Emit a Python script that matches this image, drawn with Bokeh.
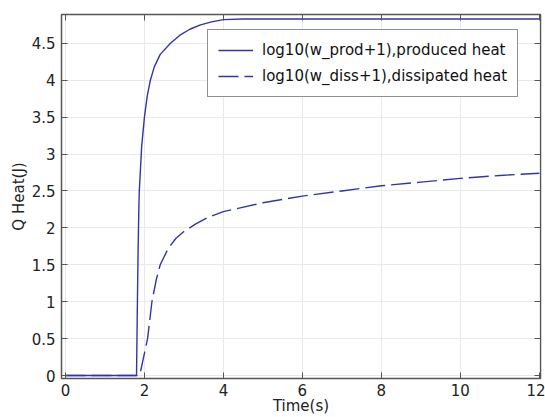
from bokeh.plotting import figure
from bokeh.models import Range1d, LinearAxis, SingleIntervalTicker, Legend, LegendItem, CustomJSTickFormatter
from bokeh.embed import file_html
from bokeh.resources import INLINE

# data
t_prod = [0, 1.80, 1.82, 1.84, 1.86, 1.87, 1.93, 2.0, 2.07, 2.15, 2.25, 2.4, 2.66, 2.9, 3.15, 3.42, 3.7, 4.0, 4.5, 6, 8, 10, 12]
q_prod = [0, 0, 0.9, 1.7, 2.3, 2.5, 3.1, 3.5, 3.78, 4.0, 4.18, 4.35, 4.5, 4.61, 4.69, 4.75, 4.79, 4.82, 4.83, 4.83, 4.83, 4.83, 4.83]

t_diss = [0, 1.85, 1.9, 2.0, 2.08, 2.19, 2.3, 2.4, 2.6, 2.8, 3.0, 3.29, 3.6, 4.0, 5, 6, 7, 8, 9, 10, 11, 12]
q_diss = [0, 0, 0.05, 0.3, 0.5, 1.0, 1.3, 1.5, 1.72, 1.86, 1.95, 2.05, 2.14, 2.22, 2.34, 2.43, 2.50, 2.57, 2.62, 2.67, 2.71, 2.74]

labels = ["log10(w_prod+1),produced heat", "log10(w_diss+1),dissipated heat"]

FONT = "DejaVu Sans"
COLOR = "#3434a8"

p = figure(width=545, height=417, output_backend="svg", toolbar_location=None,
           x_range=Range1d(-0.1, 12.03), y_range=Range1d(-0.04, 4.89),
           min_border_left=61, min_border_right=5, min_border_top=14, min_border_bottom=0)

l1 = p.line(t_prod, q_prod, line_color=COLOR, line_width=1.4)
l2 = p.line(t_diss, q_diss, line_color=COLOR, line_width=1.4, line_dash="20 6")

p.outline_line_color = "#555555"
p.outline_line_width = 1.5
p.xgrid.grid_line_color = "#e9e9e9"
p.ygrid.grid_line_color = "#e9e9e9"

for ax, lab in ((p.xaxis[0], "Time(s)"), (p.yaxis[0], "Q Heat(J)")):
    ax.axis_label = lab
    ax.axis_label_text_font = FONT
    ax.axis_label_text_font_style = "normal"
    ax.axis_label_text_font_size = "15px"
    ax.major_label_text_font = FONT
    ax.major_label_text_font_size = "15px"
    ax.major_label_text_color = "#222222"
    ax.axis_label_text_color = "#222222"
    ax.major_tick_in = 6
    ax.major_tick_out = 0
    ax.minor_tick_in = 0
    ax.minor_tick_out = 0
    ax.axis_line_color = "#555555"
    ax.major_tick_line_color = "#555555"

p.xaxis.ticker = SingleIntervalTicker(interval=2)
p.yaxis.ticker = SingleIntervalTicker(interval=0.5)
p.xaxis.axis_label_standoff = -2
p.xaxis.major_label_standoff = 5
p.yaxis.axis_label_standoff = 1
p.yaxis.major_label_standoff = 6

blank = CustomJSTickFormatter(code="return '';")
for side, interval, standoff in (("above", 2, 0), ("right", 0.5, 0)):
    ax = LinearAxis(ticker=SingleIntervalTicker(interval=interval), formatter=blank,
                    major_label_standoff=standoff, major_label_text_font_size="1px",
                    axis_label_standoff=0,
                    major_tick_in=6, major_tick_out=0, minor_tick_in=0, minor_tick_out=0,
                    axis_line_color="#555555", major_tick_line_color="#555555")
    p.add_layout(ax, side)

legend = Legend(items=[LegendItem(label=labels[0], renderers=[l1]),
                       LegendItem(label=labels[1], renderers=[l2])],
                location=(146, 281))
legend.label_text_font = FONT
legend.label_text_font_size = "15px"
legend.label_text_color = "#111111"
legend.border_line_color = "#222222"
legend.border_line_width = 1
legend.glyph_width = 35
legend.label_standoff = 9
legend.spacing = 6
legend.padding = 10
legend.margin = 0
p.add_layout(legend)

open("out.html", "w").write(file_html(p, INLINE))
